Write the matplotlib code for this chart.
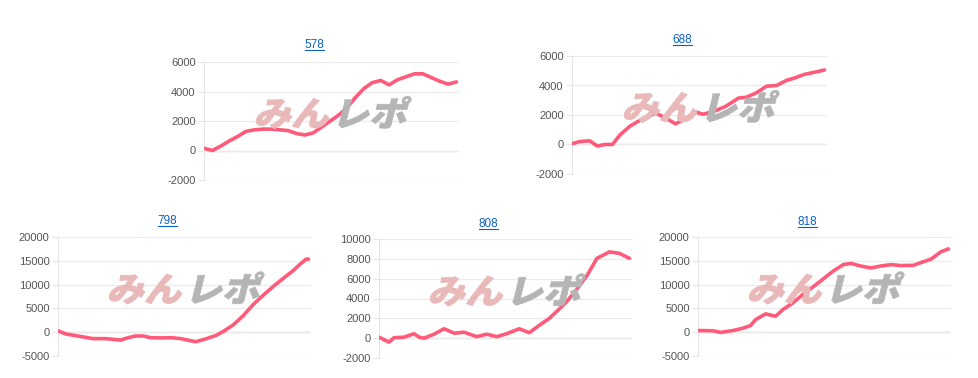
import matplotlib
matplotlib.use('Agg')
from matplotlib import pyplot as plt
from matplotlib.textpath import TextPath
from matplotlib.patches import PathPatch
from matplotlib.font_manager import FontProperties
from matplotlib.transforms import Affine2D, IdentityTransform
from matplotlib.lines import Line2D

plt.rcParams['font.family'] = ['Liberation Sans', 'DejaVu Sans']
plt.rcParams['axes.unicode_minus'] = False

# machine numbers
titles = ['578', '688', '798', '808', '818']

# x = progress through the day (0-100), y = cumulative difference
x578 = [i * 100 / 30 for i in range(31)]
y578 = [150, 0, 300, 650, 950, 1300, 1400, 1450, 1450, 1400, 1350, 1150, 1050, 1200, 1600,
        2000, 2400, 2900, 3600, 4200, 4600, 4750, 4450, 4800, 5000, 5200, 5200, 4950, 4700,
        4500, 4650]

x688 = [0, 3, 7, 10, 13, 16, 19, 23, 27, 31, 33, 37, 41, 45, 49, 52, 57, 61, 66, 69, 73, 77,
        81, 85, 88, 92, 96, 100]
y688 = [50, 200, 250, -100, 0, 0, 650, 1250, 1650, 1950, 2150, 1800, 1400, 1750, 2200, 2050,
        2300, 2600, 3150, 3200, 3500, 3950, 4000, 4350, 4500, 4750, 4900, 5050]

x798 = [0, 3, 9, 14, 19, 25, 28, 31, 34, 37, 41, 45, 49, 53, 55, 59, 63, 66, 70, 74, 78, 82,
        86, 90, 94, 97, 99, 100]
y798 = [300, -350, -900, -1350, -1350, -1650, -1150, -800, -800, -1150, -1200, -1150, -1350,
        -1800, -2000, -1400, -700, 150, 1550, 3500, 5850, 7800, 9650, 11350, 13000, 14450,
        15350, 15350]

x808 = [0, 4, 6, 10, 14, 16, 18, 22, 26, 30, 34, 39, 43, 47, 51, 56, 60, 64, 68, 72, 75, 79,
        83, 87, 92, 96, 100]
y808 = [100, -400, 50, 100, 450, 100, 0, 400, 950, 500, 600, 150, 400, 150, 450, 950, 550,
        1300, 2000, 2950, 3700, 4950, 6300, 8050, 8700, 8550, 8050]

x818 = [0, 6, 9, 14, 18, 21, 23, 27, 31, 34, 38, 42, 46, 50, 54, 58, 61, 65, 69, 73, 77, 81,
        86, 90, 93, 97, 100]
y818 = [350, 300, -50, 350, 850, 1400, 2650, 3850, 3350, 4800, 6200, 8000, 9550, 11200,
        12850, 14200, 14450, 13900, 13500, 13900, 14200, 14000, 14050, 14800, 15350, 16900,
        17500]

yticks_small = [-2000, 0, 2000, 4000, 6000]
yticks_big = [-5000, 0, 5000, 10000, 15000, 20000]
yticks_808 = [-2000, 0, 2000, 4000, 6000, 8000, 10000]

W, H = 979, 378
fig = plt.figure(figsize=(W / 100, H / 100), dpi=100)

# pixel boxes: left, right, top, bottom
boxes = [(204, 459, 62, 180), (572, 827, 56, 174), (58, 311, 237, 356),
         (379, 632, 239, 358), (698, 951, 237, 356)]
title_y = [45, 40, 221, 224, 222]
series = [(x578, y578, yticks_small), (x688, y688, yticks_small), (x798, y798, yticks_big),
          (x808, y808, yticks_808), (x818, y818, yticks_big)]

jp = FontProperties(family='Noto Sans CJK JP', weight='heavy')
title_texts = []
for (l, r, t, b), ty, name, (xs, ys, yt) in zip(boxes, title_y, titles, series):
    ax = fig.add_axes([l / W, 1 - b / H, (r - l) / W, (b - t) / H])
    ax.plot(xs, ys, color='#ff5a7a', lw=2.6, solid_capstyle='round',
            solid_joinstyle='round', zorder=3)
    ax.set_xlim(0, 101)
    ax.set_ylim(yt[0], yt[-1])
    ax.set_yticks(yt)
    ax.set_xticks([])
    ax.grid(axis='y', color='#ebebeb', lw=0.9)
    ax.axhline(0, color='#d8d8d8', lw=1, zorder=1)
    for s in ['top', 'right', 'bottom']:
        ax.spines[s].set_visible(False)
    ax.spines['left'].set_color('#e6e6e6')
    ax.tick_params(axis='y', labelsize=8, labelcolor='#555555', color='#e6e6e6',
                   length=4, pad=2)
    ax.set_facecolor('none')
    cx = (l + r) / 2 - 17
    title_texts.append(fig.text(cx / W, 1 - ty / H, name, color='#0b62c4', fontsize=8.5,
                                ha='center', va='center'))

    # watermark logo
    px, py = (l + r) / 2 - 78, H - ((t + b) / 2 + 5)
    for txt, col, dx in [('みん', '#e9b9ba', 0), ('レポ', '#b5b5b5', 78)]:
        tp = TextPath((0, 0), txt, size=34, prop=jp)
        tr = Affine2D().scale(1.1, 1.0).skew_deg(14, 0).translate(px + dx, py)
        patch = PathPatch(tp, transform=tr, facecolor=col, edgecolor=col, lw=0.6,
                          zorder=2, clip_on=False)
        fig.add_artist(patch)

fig.canvas.draw()
for t in title_texts:
    bb = t.get_window_extent()
    fig.add_artist(Line2D([bb.x0, bb.x1], [bb.y0 + 1, bb.y0 + 1], color='#0b62c4',
                          lw=0.8, transform=IdentityTransform()))

fig.savefig('out.png', dpi=100)
